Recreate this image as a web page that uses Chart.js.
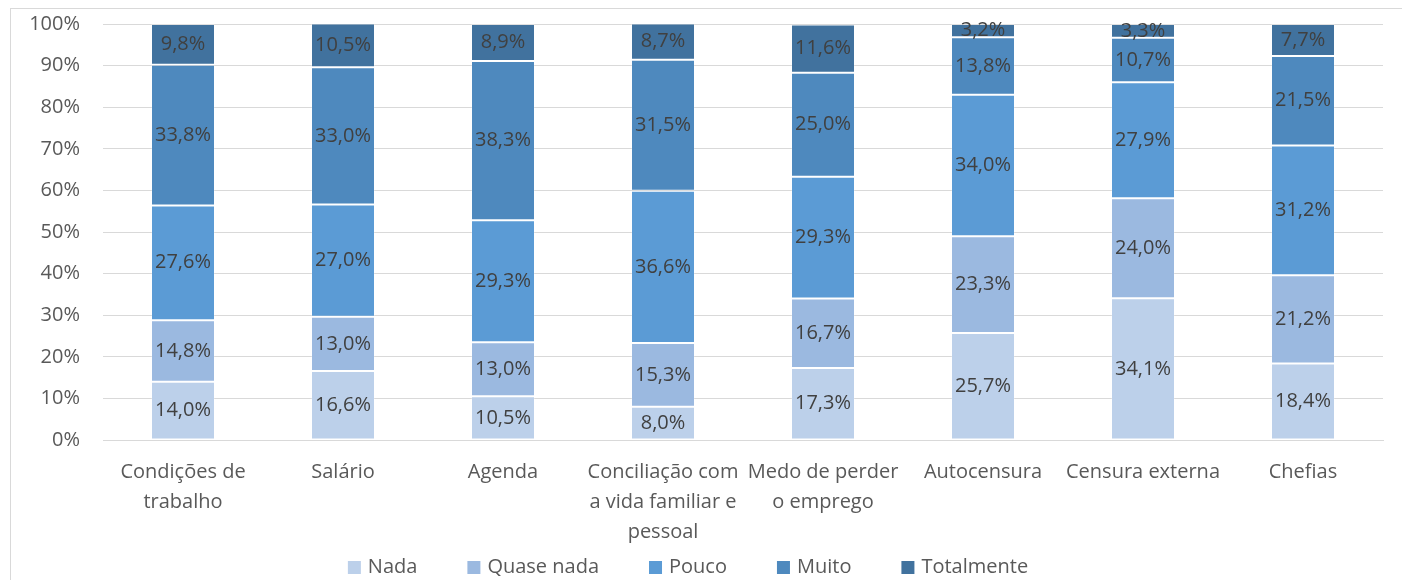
<!DOCTYPE html>
<html lang="pt">
<head>
<meta charset="utf-8">
<title>Condições de trabalho</title>
<script src="https://cdn.jsdelivr.net/npm/chart.js@4.4.1/dist/chart.umd.min.js"></script>
<style>
  html, body { margin: 0; padding: 0; background: #fff; overflow: hidden; }
  #frame { position: absolute; left: 10px; top: 8px; width: 1500px; height: 700px; border: 1px solid #d9d9d9; }
  #wrap { position: absolute; left: 0; top: 0; width: 1402px; height: 580px; }
</style>
</head>
<body>
<div id="frame"></div>
<div id="wrap"><canvas id="chart"></canvas></div>
<script>
// ── DATA ──
const categorias = [
  ['Condições de', 'trabalho'],
  'Salário',
  'Agenda',
  ['Conciliação com', 'a vida familiar e', 'pessoal'],
  ['Medo de perder', 'o emprego'],
  'Autocensura',
  'Censura externa',
  'Chefias'
]
const nada       = [14.0, 16.6, 10.5,  8.0, 17.3, 25.7, 34.1, 18.4]
const quaseNada  = [14.8, 13.0, 13.0, 15.3, 16.7, 23.3, 24.0, 21.2]
const pouco      = [27.6, 27.0, 29.3, 36.6, 29.3, 34.0, 27.9, 31.2]
const muito      = [33.8, 33.0, 38.3, 31.5, 25.0, 13.8, 10.7, 21.5]
const totalmente = [ 9.8, 10.5,  8.9,  8.7, 11.6,  3.2,  3.3,  7.7]
const series = ['Nada', 'Quase nada', 'Pouco', 'Muito', 'Totalmente']
const yTicks = [0, 10, 20, 30, 40, 50, 60, 70, 80, 90, 100]

// ── STYLE ──
const FONT = "'Open Sans', sans-serif"
const cores = ['#bcd0ea', '#9bb9e0', '#5b9bd5', '#4e89be', '#41729e']
const fmtPct = v => v.toFixed(1).replace('.', ',') + '%'

// valores dentro de cada segmento
const valueLabels = {
  id: 'valueLabels',
  afterDatasetsDraw(chart) {
    const { ctx } = chart
    ctx.save()
    ctx.font = `20px ${FONT}`
    ctx.fillStyle = '#404040'
    ctx.textAlign = 'center'
    ctx.textBaseline = 'middle'
    chart.data.datasets.forEach((ds, i) => {
      chart.getDatasetMeta(i).data.forEach((bar, j) => {
        ctx.fillText(fmtPct(ds.data[j]), bar.x, (bar.y + bar.base) / 2)
      })
    })
    ctx.restore()
  }
}

// legenda em baixo, centrada como no Excel
const legendBottom = {
  id: 'legendBottom',
  afterDraw(chart) {
    const { ctx } = chart
    ctx.save()
    ctx.font = `20px ${FONT}`
    const items = chart.data.datasets.map(ds => ({
      label: ds.label, color: ds.backgroundColor, w: ctx.measureText(ds.label).width
    }))
    const box = 13, gap = 7, space = 50
    const total = items.reduce((s, it) => s + box + gap + it.w, 0) + space * (items.length - 1)
    let x = 688 - total / 2
    const y = 567
    ctx.textBaseline = 'middle'
    items.forEach(it => {
      ctx.fillStyle = it.color
      ctx.fillRect(x, y - 6, box, box)
      ctx.fillStyle = '#595959'
      ctx.fillText(it.label, x + box + gap, y)
      x += box + gap + it.w + space
    })
    ctx.restore()
  }
}

const datasets = [nada, quaseNada, pouco, muito, totalmente].map((data, i) => ({
  label: series[i],
  data,
  backgroundColor: cores[i],
  borderColor: 'rgba(255,255,255,0.18)',
  borderWidth: 1,
  borderSkipped: false,
  categoryPercentage: 1,
  barPercentage: 0.4
}))

new Chart(document.getElementById('chart'), {
  type: 'bar',
  data: { labels: categorias, datasets },
  plugins: [valueLabels, legendBottom],
  options: {
    responsive: true,
    maintainAspectRatio: false,
    animation: false,
    layout: { padding: { top: 24, right: 19, bottom: 22, left: 0 } },
    plugins: {
      legend: { display: false },
      tooltip: { enabled: false }
    },
    scales: {
      x: {
        stacked: true,
        grid: { display: false },
        border: { display: true, color: '#d9d9d9', width: 1 },
        ticks: {
          color: '#595959',
          font: { family: FONT, size: 20, lineHeight: 1.5 },
          padding: 9,
          maxRotation: 0,
          autoSkip: false
        },
        afterFit: s => { s.height = 118 }
      },
      y: {
        stacked: true,
        min: 0,
        max: 100,
        grid: { color: '#d9d9d9', lineWidth: 1, drawTicks: false },
        border: { display: false },
        ticks: {
          color: '#595959',
          font: { family: FONT, size: 20 },
          padding: 23,
          callback: v => v + '%'
        },
        afterBuildTicks: s => { s.ticks = yTicks.map(v => ({ value: v })) },
        afterFit: s => {
          s.width = 103
          // o padding dos ticks não deve empurrar a área do gráfico
          s.paddingTop = 12
          s.paddingBottom = 12
        }
      }
    }
  }
})
</script>
</body>
</html>
